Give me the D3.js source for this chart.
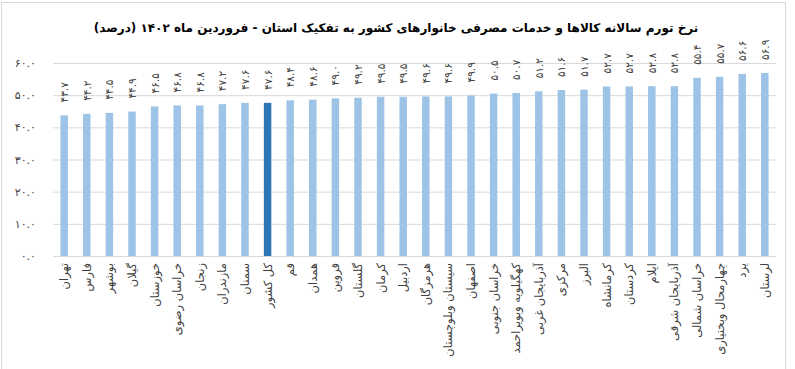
<!DOCTYPE html>
<html>
<head>
<meta charset="utf-8">
<script src="https://cdn.jsdelivr.net/npm/d3@7"></script>
<style>
  body { margin: 0; background: #fff; }
  svg text { font-family: "DejaVu Sans", "Noto Sans", sans-serif; }
</style>
</head>
<body>
<div id="chart"></div>
<script>
const provinces = ["تهران", "فارس", "بوشهر", "گیلان", "خوزستان", "خراسان رضوی", "زنجان", "مازندران", "سمنان", "کل کشور",
    "قم", "همدان", "قزوین", "گلستان", "کرمان", "اردبیل", "هرمزگان", "سیستان وبلوچستان", "اصفهان", "خراسان جنوبی",
    "کهگیلویه وبویراحمد", "آذربایجان غربی", "مرکزی", "البرز", "کرمانشاه", "کردستان", "ایلام", "آذربایجان شرقی",
    "خراسان شمالی", "چهارمحال وبختیاری", "یزد", "لرستان"];
const inflation = [43.7, 44.2, 44.5, 44.9, 46.5, 46.8, 46.8, 47.2, 47.6, 47.6,
    48.4, 48.6, 49.0, 49.2, 49.5, 49.5, 49.6, 49.6, 49.9, 50.5,
    50.7, 51.2, 51.6, 51.7, 52.7, 52.7, 52.8, 52.8,
    55.4, 55.7, 56.6, 56.9];
const yTicks = [0, 10, 20, 30, 40, 50, 60];
const highlight = "کل کشور";
const title = "نرخ تورم سالانه کالاها و خدمات مصرفی خانوارهای کشور به تفکیک استان - فروردین ماه ۱۴۰۲ (درصد)";

const data = provinces.map((p, i) => ({name: p, value: inflation[i]}));

const width = 795;
const height = 369;
const marginLeft = 53;
const marginRight = 19;
const plotTop = 63;
const plotBottom = 256;

const faDigits = s => s.replace(/\d/g, d => "۰۱۲۳۴۵۶۷۸۹"[d]);
const fmt = v => faDigits(v.toFixed(1));

const x = d3.scaleBand()
    .domain(provinces)
    .range([marginLeft, width - marginRight])
    .paddingInner(0.67)
    .paddingOuter(0.33);

const y = d3.scaleLinear()
    .domain([0, 60])
    .range([plotBottom, plotTop]);

const svg = d3.select("#chart").append("svg")
    .attr("width", width)
    .attr("height", height)
    .attr("viewBox", [0, 0, width, height]);

// outer border of the chart area
svg.append("rect")
    .attr("x", 1.5).attr("y", 2.5)
    .attr("width", 784).attr("height", 380)
    .attr("fill", "none")
    .attr("stroke", "#d9d9d9");

svg.append("text")
    .attr("x", 396)
    .attr("y", 32)
    .attr("text-anchor", "middle")
    .attr("font-size", 12)
    .attr("font-weight", "bold")
    .attr("fill", "#000")
    .text(title);

// gridlines + y labels
svg.append("g")
    .attr("transform", `translate(${marginLeft},0)`)
    .call(d3.axisLeft(y).tickValues(yTicks).tickFormat(fmt).tickSize(0).tickPadding(17))
    .call(g => g.select(".domain").remove())
    .call(g => g.selectAll(".tick text")
        .attr("font-size", 11)
        .attr("fill", "#404040"))
    .call(g => g.selectAll(".tick line").clone()
        .attr("x2", width - marginLeft - marginRight)
        .attr("stroke", "#d9d9d9"));

svg.append("g")
    .selectAll("rect")
    .data(data)
    .join("rect")
    .attr("x", d => x(d.name))
    .attr("y", d => y(d.value))
    .attr("width", x.bandwidth())
    .attr("height", d => y(0) - y(d.value))
    .attr("fill", d => d.name === highlight ? "#2e75b6" : "#9dc3e6");

// value labels, rotated
svg.append("g")
    .selectAll("text")
    .data(data)
    .join("text")
    .attr("transform", d => `translate(${x(d.name) + x.bandwidth() / 2 + 4},${y(d.value) - 13}) rotate(-90)`)
    .attr("text-anchor", "start")
    .attr("font-size", 10.5)
    .attr("fill", "#404040")
    .text(d => fmt(d.value));

// category labels
svg.append("g")
    .selectAll("text")
    .data(data)
    .join("text")
    .attr("transform", d => `translate(${x(d.name) + x.bandwidth() / 2 + 4},${plotBottom + 7}) rotate(-90)`)
    .attr("text-anchor", "end")
    .attr("font-size", 11.5)
    .attr("fill", "#404040")
    .text(d => d.name);
</script>
</body>
</html>
